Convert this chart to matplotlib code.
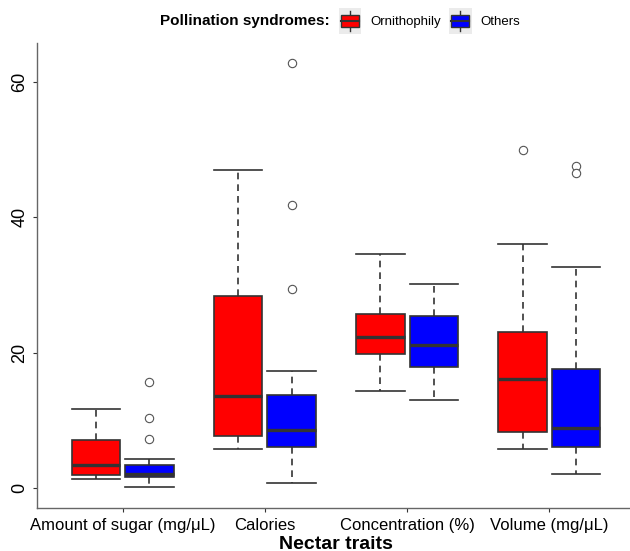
import matplotlib
matplotlib.use("Agg")
import matplotlib.pyplot as plt
from matplotlib.legend_handler import HandlerBase
from matplotlib.patches import Rectangle
from matplotlib.lines import Line2D

plt.rcParams['font.family'] = ['Liberation Sans', 'DejaVu Sans']

# nectar traits on the x axis
traits = ["Amount of sugar (mg/\u03bcL)", "Calories", "Concentration (%)", "Volume (mg/\u03bcL)"]
groups = ["Ornithophily", "Others"]
colors = {"Ornithophily": "#ff0000", "Others": "#0000ff"}

# five-number summaries: whislo, q1, med, q3, whishi
orni_whislo = [1.4, 5.7, 14.3, 5.7]
orni_q1     = [1.9, 7.7, 19.75, 8.2]
orni_med    = [3.45, 13.6, 22.35, 16.1]
orni_q3     = [7.1, 28.4, 25.7, 23.0]
orni_whishi = [11.7, 46.9, 34.5, 36.0]
orni_fliers = [[], [], [], [49.9]]

oth_whislo = [0.2, 0.8, 13.0, 2.0]
oth_q1     = [1.6, 6.0, 17.8, 6.05]
oth_med    = [2.1, 8.6, 21.1, 8.8]
oth_q3     = [3.35, 13.8, 25.45, 17.6]
oth_whishi = [4.3, 17.3, 30.1, 32.6]
oth_fliers = [[15.6, 10.4, 7.2], [62.8, 41.8, 29.4], [], [47.5, 46.5]]

EDGE = "#333333"


def make_stats(lo, q1, med, q3, hi, fl):
    return [dict(whislo=a, q1=b, med=c, q3=d, whishi=e, fliers=f)
            for a, b, c, d, e, f in zip(lo, q1, med, q3, hi, fl)]


class BoxHandler(HandlerBase):
    # little boxplot glyph like the ggplot legend key
    def create_artists(self, legend, orig, xd, yd, width, height, fontsize, trans):
        fc = orig.get_facecolor()
        x0, y0 = -xd, -yd
        bg = Rectangle((x0, y0), width, height, facecolor="#ebebeb",
                       edgecolor="none", transform=trans)
        cx = x0 + width / 2
        vl = Line2D([cx, cx], [y0 + 2, y0 + height - 2], color=EDGE, lw=1, transform=trans)
        bx = Rectangle((x0 + 1.5, y0 + height * 0.25), width - 3, height * 0.5,
                       facecolor=fc, edgecolor=EDGE, lw=1, transform=trans)
        md = Line2D([x0 + 1.5, x0 + width - 1.5], [y0 + height / 2] * 2, color=EDGE,
                    lw=1.5, transform=trans)
        return [bg, vl, bx, md]


fig = plt.figure(figsize=(6.3, 5.51), dpi=100)
ax = fig.add_axes([0.0595, 0.078, 0.9476, 0.844])

bw = 0.34
for grp, stats, shift in [("Ornithophily", make_stats(orni_whislo, orni_q1, orni_med, orni_q3, orni_whishi, orni_fliers), -0.1875),
                          ("Others", make_stats(oth_whislo, oth_q1, oth_med, oth_q3, oth_whishi, oth_fliers), 0.1875)]:
    pos = [i + 1 + shift for i in range(len(traits))]
    ax.bxp(stats, positions=pos, widths=bw, patch_artist=True, showcaps=True,
           boxprops=dict(facecolor=colors[grp], edgecolor=EDGE, lw=1.2),
           medianprops=dict(color=EDGE, lw=2.4),
           whiskerprops=dict(color=EDGE, lw=1.2, linestyle=(0, (4, 3))),
           capprops=dict(color=EDGE, lw=1.2),
           flierprops=dict(marker="o", markerfacecolor="white", markeredgecolor="#555555",
                           markersize=6, markeredgewidth=0.8),
           capwidths=bw, manage_ticks=False)

ax.set_xlim(0.4, 4.6)
ax.set_ylim(-2.95, 65.7)
ax.set_xticks(range(1, len(traits) + 1))
ax.set_xticklabels(traits, fontsize=12, color="black")
ax.set_yticks([0, 20, 40, 60])
ax.set_yticklabels(["0", "20", "40", "60"], fontsize=13, rotation=90, va="center", color="black")
ax.tick_params(axis="both", color="#333333", length=3, width=0.8)
ax.tick_params(axis="x", pad=4)
ax.set_xlabel("Nectar traits", fontsize=14, fontweight="bold", labelpad=2)
for s in ["top", "right"]:
    ax.spines[s].set_visible(False)
for s in ["left", "bottom"]:
    ax.spines[s].set_color("#666666")
    ax.spines[s].set_linewidth(1.0)

fig.text(0.254, 0.962, "Pollination syndromes:", fontsize=11, fontweight="bold",
         ha="left", va="center")
handles = [Rectangle((0, 0), 1, 1, facecolor=colors[g]) for g in groups]
leg = fig.legend(handles, groups, handler_map={Rectangle: BoxHandler()},
                 loc="center left", bbox_to_anchor=(0.538, 0.962), ncol=2, frameon=False,
                 fontsize=9.5, handlelength=1.7, handleheight=2.6, columnspacing=0.6,
                 handletextpad=0.7, borderpad=0, borderaxespad=0)

fig.savefig("out.png", dpi=100)
